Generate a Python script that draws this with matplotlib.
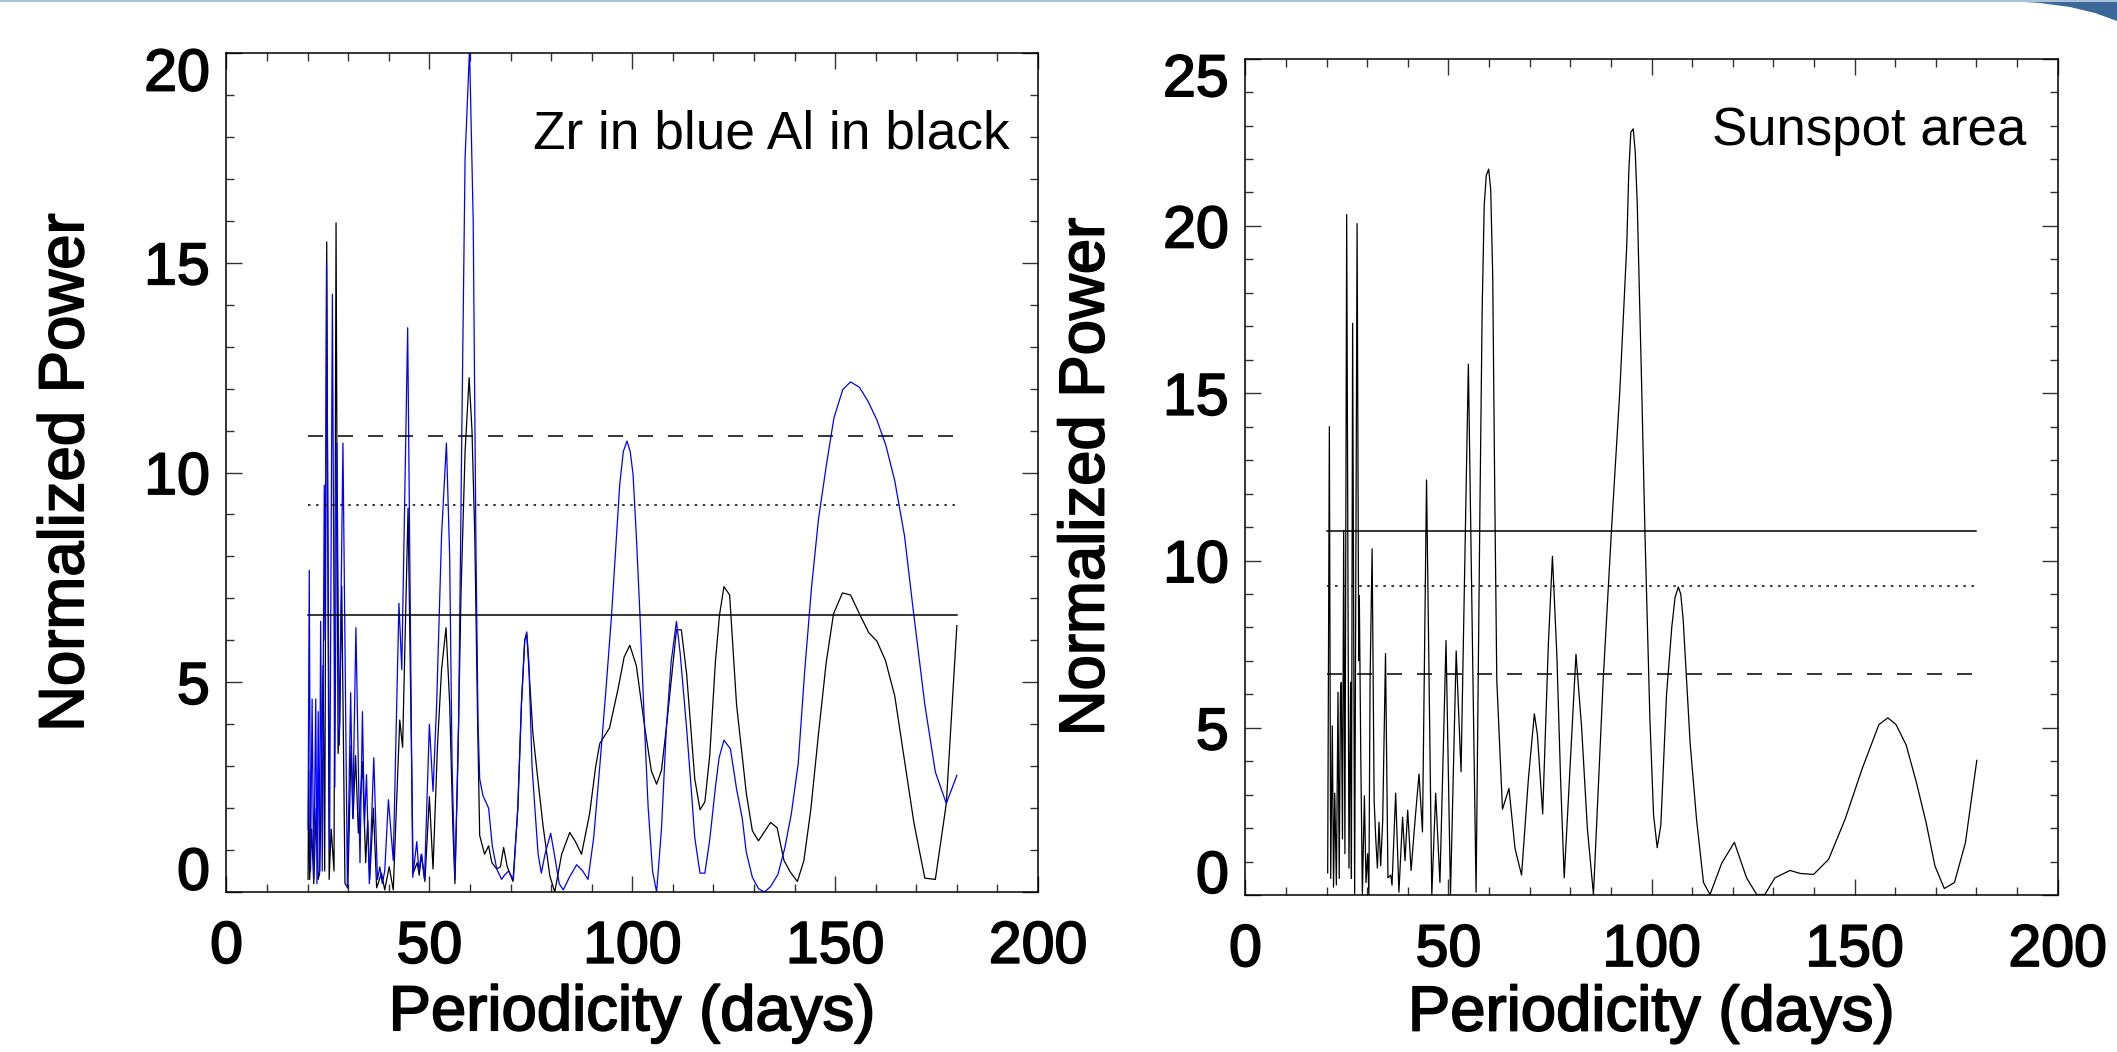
import numpy as np
import matplotlib
matplotlib.use("Agg")
import matplotlib.pyplot as plt
import matplotlib.patheffects as pe
from matplotlib.patches import Polygon
from matplotlib.transforms import ScaledTranslation, IdentityTransform
from matplotlib.ticker import MultipleLocator

plt.rcParams['font.family'] = ['Liberation Sans', 'DejaVu Sans']
plt.rcParams['lines.scale_dashes'] = False

# --- Zr (blue) periodogram, left panel ---
zr_period = [20.1, 20.4, 20.7, 21.1, 21.5, 22.0, 22.3, 22.6, 22.9, 23.2, 23.6, 24.1, 24.3, 24.65,
             25.4, 26.1, 26.7, 27.2, 27.8, 28.7, 29.8, 30.6, 31.1, 31.9, 32.9, 33.5, 34.0, 34.5,
             35.2, 36.3, 37.2, 37.8, 38.4, 39.0, 39.9, 41.1, 42.5, 43.2, 44.65, 45.9, 46.9, 47.4,
             48.0, 48.8, 50.0, 50.9, 51.8, 53.0, 54.2, 55.0, 55.6, 56.3, 57.2, 58.0, 58.8, 59.9,
             60.8, 61.5, 62.0, 62.4, 63.2, 63.9, 64.6, 65.5, 66.6, 67.8, 68.5, 69.5, 70.7, 71.8,
             72.7, 73.5, 74.0, 74.5, 75.3, 76.0, 76.8, 77.6, 78.5, 79.9, 80.8, 82.0, 83.0, 84.5,
             86.3, 87.8, 89.1, 90.5, 92.0, 93.5, 94.9, 96.0, 96.9, 97.8, 98.7, 99.5, 100.2, 101.0,
             101.9, 103.0, 103.9, 105.0, 106.0, 107.2, 108.4, 109.6, 110.9, 111.8, 113.4, 114.5,
             115.4, 116.7, 117.9, 119.1, 120.5, 121.4, 122.6, 124.2, 125.7, 127.1, 128.1, 129.6,
             131.1, 132.6, 134.1, 135.9, 137.6, 139.2, 140.9, 142.5, 144.2, 145.9, 147.8, 149.7,
             151.9, 153.8, 156.0, 158.1, 160.3, 162.5, 164.7, 167.1, 169.3, 172.1, 174.7, 177.4, 180.0]
zr_power = [1.5, 7.67, 0.5, 4.6, 0.3, 4.6, 0.2, 4.3, 0.4, 6.45, 0.5, 9.7, 6.0, 15.0,
            1.0, 14.25, 2.5, 10.7, 3.5, 10.7, 0.1, 4.75, 1.75, 6.3, 0.7, 4.3, 1.6, 2.8,
            0.2, 3.2, 0.3, 0.6, 0.2, 0.5, 2.2, 0.75, 6.88, 5.3, 13.45, 0.35, 1.2, 0.5,
            0.9, 0.3, 4.0, 2.4, 4.5, 8.5, 10.7, 8.0, 3.0, 0.3, 4.0, 11.0, 17.5, 20.1,
            16.0, 8.0, 4.0, 2.7, 2.3, 2.15, 2.0, 1.1, 0.55, 0.3, 0.4, 0.5, 0.3, 2.0,
            4.5, 6.0, 6.2, 5.5, 3.0, 2.0, 0.9, 0.45, 0.9, 1.4, 0.9, 0.2, 0.05, 0.35,
            0.65, 0.5, 0.3, 1.3, 3.0, 4.8, 6.6, 8.3, 9.7, 10.5, 10.75, 10.5, 9.95, 8.5,
            6.6, 4.0, 2.05, 0.5, 0.0, 1.5, 3.9, 5.5, 6.45, 5.7, 3.9, 2.5,
            1.3, 0.45, 0.45, 1.25, 2.5, 3.2, 3.62, 3.41, 2.46, 1.76, 0.95, 0.35,
            0.08, 0.0, 0.13, 0.42, 1.05, 1.86, 3.06, 5.27, 7.28, 8.89, 10.15, 11.3,
            11.98, 12.16, 12.03, 11.7, 11.25, 10.65, 9.8, 8.49, 6.68, 4.47, 2.86, 2.11, 2.78]

# --- Al (black) periodogram, left panel ---
al_period = [20.1, 20.25, 20.5, 21.0, 21.5, 22.1, 22.6, 23.0, 23.8, 24.2, 24.7, 25.3, 25.8, 26.5,
             27.0, 27.5, 27.9, 28.4, 29.2, 29.9, 30.7, 31.2, 31.8, 32.5, 33.5, 34.3, 34.8, 35.3,
             36.2, 37.0, 38.2, 39.0, 40.1, 41.1, 42.7, 43.4, 44.75, 46.0, 47.0, 47.5, 48.1, 48.9,
             50.0, 50.9, 52.0, 53.0, 54.1, 55.0, 55.8, 56.3, 57.0, 57.8, 58.8, 59.8, 60.5, 61.2,
             61.9, 62.4, 63.6, 64.6, 65.4, 66.6, 67.5, 68.3, 69.2, 70.6, 71.8, 72.7, 73.5, 74.0,
             74.6, 75.5, 76.4, 78.0, 79.7, 80.9, 82.6, 84.6, 86.0, 87.5, 89.5, 91.0, 92.0, 94.4,
             96.5, 98.0, 99.4, 101.0, 103.1, 104.7, 106.0, 107.2, 108.4, 110.9, 112.1, 113.4,
             115.4, 116.7, 117.9, 119.1, 120.5, 121.5, 122.6, 124.0, 125.7, 128.1, 129.6, 131.1,
             134.1, 135.7, 137.4, 139.0, 140.7, 142.3, 144.0, 145.9, 147.8, 149.6, 151.8, 153.8,
             156.0, 158.3, 160.3, 162.4, 164.7, 166.9, 169.4, 172.1, 174.7, 177.4, 180.0]
al_power = [0.3, 2.9, 0.3, 1.5, 0.2, 2.0, 0.3, 0.5, 5.4, 0.5, 15.5, 0.3, 1.5, 0.5,
            15.95, 3.3, 4.0, 7.3, 0.2, 0.1, 3.5, 1.75, 3.25, 1.4, 3.1, 0.7, 1.7, 0.3,
            2.0, 0.1, 0.45, 0.05, 0.6, 0.05, 4.1, 3.45, 9.15, 0.45, 0.7, 0.4, 0.9, 0.25,
            2.27, 0.55, 3.5, 5.3, 6.3, 4.5, 1.5, 0.2, 3.0, 7.15, 10.5, 12.26, 11.0, 8.47,
            4.0, 1.35, 0.9, 1.1, 0.7, 0.55, 0.6, 1.06, 0.6, 0.25, 2.0, 4.5, 6.0, 6.15,
            5.2, 3.8, 2.98, 1.59, 0.38, 0.0, 0.9, 1.42, 1.2, 0.9, 1.87, 3.0, 3.54, 3.91,
            4.84, 5.6, 5.88, 5.4, 3.91, 2.89, 2.57, 2.9, 3.91, 6.25, 6.25, 5.2,
            2.7, 1.96, 2.15, 3.26, 5.5, 6.6, 7.28, 7.08, 4.47, 2.36, 1.46, 1.22,
            1.66, 1.53, 0.75, 0.47, 0.25, 0.75, 1.96, 3.77, 5.47, 6.63, 7.13, 7.08,
            6.63, 6.18, 5.98, 5.52, 4.67, 3.26, 1.66, 0.33, 0.3, 2.11, 6.35]

# --- Sunspot area periodogram, right panel ---
ss_period = [20.26, 20.67, 21.0, 21.4, 21.7, 22.0, 22.4, 22.8, 23.1, 23.4, 23.6, 23.9, 24.2, 24.5,
             24.94, 25.5, 25.9, 26.1, 26.4, 26.9, 27.5, 27.9, 28.05, 28.4, 28.8, 29.3, 29.7, 30.1,
             30.4, 30.7, 31.2, 31.7, 32.1, 32.5, 32.9, 33.3, 33.8, 34.5, 35.1, 35.8, 36.1, 37.0,
             37.8, 38.7, 39.3, 39.96, 40.8, 41.8, 42.75, 43.6, 44.6, 45.9, 46.85, 47.9, 49.4, 50.5,
             51.9, 53.1, 54.9, 56.8, 57.7, 58.3, 58.8, 59.3, 59.9, 60.4, 60.9, 61.4, 61.9, 63.3,
             64.9, 66.4, 68.0, 69.7, 71.15, 71.9, 73.2, 74.6, 75.6, 76.7, 77.6, 78.5, 79.5, 81.4,
             82.8, 84.2, 85.7, 88.1, 90.2, 92.2, 93.9, 94.4, 94.9, 95.5, 96.0, 96.5, 97.6, 98.4,
             99.6, 100.5, 101.4, 102.3, 103.7, 105.0, 105.8, 106.6, 107.2, 107.8, 109.5, 111.1,
             112.8, 114.4, 117.3, 120.4, 123.4, 125.9, 127.9, 130.4, 134.1, 136.6, 139.9, 143.6,
             147.7, 151.9, 156.0, 158.2, 160.2, 162.7, 165.2, 167.6, 169.8, 172.1, 174.6, 177.3, 180.1]
ss_power = [0.67, 14.0, 0.5, 5.06, 0.24, 3.05, 0.31, 6.07, 0.5, 6.0, 6.36, 1.68, 10.9, 1.24,
            20.34, 0.81, 6.36, 0.5, 17.09, 0.02, 20.07, 7.01, 8.95, 4.27, 0.02, 2.97, 0.38, 1.24,
            0.02, 6.43, 10.35, 2.83, 1.68, 0.81, 2.18, 0.88, 2.2, 7.22, 0.52, 0.6, 0.3, 3.05,
            0.09, 2.33, 1.03, 2.54, 0.74, 2.28, 3.62, 1.89, 12.41, 0.02, 3.05, 0.38, 7.61, 0.02,
            7.3, 3.69, 15.87, 0.09, 11.0, 17.5, 20.6, 21.5, 21.7, 21.1, 18.5, 12.0, 6.43, 2.57,
            3.19, 1.39, 0.6, 3.5, 5.42, 4.8, 2.43, 7.5, 10.13, 7.15, 3.5, 0.52, 2.8, 7.2,
            4.99, 2.0, 0.02, 6.43, 11.04, 15.08, 19.4, 21.6, 22.8, 22.9, 22.2, 20.6, 15.08, 10.75,
            5.28, 2.4, 1.42, 2.1, 6.0, 8.02, 8.9, 9.21, 9.0, 8.23, 4.56, 2.25,
            0.38, 0.02, 0.96, 1.58, 0.52, 0.02, 0.02, 0.52, 0.74, 0.65, 0.62, 1.07,
            2.28, 3.79, 5.1, 5.3, 5.1, 4.49, 3.38, 2.18, 0.87, 0.2, 0.38, 1.57, 4.03]

# significance levels (same values in both panels)
levels = [10.87, 9.23, 6.61]
level_range = [20, 180]

xticks = [0, 50, 100, 150, 200]

DASHED = (0, (10.8, 10.8))
DOTTED = (0, (1.8, 4.0))

fig = plt.figure(figsize=(21.17, 10.52), dpi=100)
ax1 = fig.add_axes([0.10699, 0.15209, 0.38333, 0.79753])
ax2 = fig.add_axes([0.58829, 0.14905, 0.38366, 0.79525])

thick = [pe.withStroke(linewidth=1.3, foreground='black')]


def style_axes(ax, ymax):
    ax.set_xlim(0, 200)
    ax.set_ylim(0, ymax)
    ax.set_xticks(xticks)
    ax.set_yticks(np.arange(0, ymax + 1, 5))
    ax.xaxis.set_minor_locator(MultipleLocator(10))
    ax.yaxis.set_minor_locator(MultipleLocator(1))
    ax.tick_params(which='both', direction='in', top=True, right=True, color='#333333', width=1.0)
    ax.tick_params(which='major', length=11.5)
    ax.tick_params(which='minor', length=5.8)
    ax.tick_params(axis='x', labelsize=42.5, pad=20)
    ax.tick_params(axis='y', labelsize=42.5, pad=12)
    for s in ax.spines.values():
        s.set_linewidth(1.1)
    for lab in ax.get_xticklabels() + ax.get_yticklabels():
        lab.set_path_effects(thick)
    # the bottom and top y labels sit a little inside the frame, as in the original
    yt = ax.yaxis.get_major_ticks()
    yt[0].label1.set_transform(yt[0].label1.get_transform() + ScaledTranslation(0, 0.24, fig.dpi_scale_trans))
    yt[-1].label1.set_transform(yt[-1].label1.get_transform() + ScaledTranslation(0, -0.16, fig.dpi_scale_trans))
    ax.set_xlabel('Periodicity (days)', fontsize=45.7, va='center', path_effects=thick)
    ax.set_ylabel('Normalized Power', fontsize=45.7, va='center', path_effects=thick)


# left panel: Zr in blue, Al in black
ax1.plot(al_period, al_power, color='black', lw=0.9)
ax1.plot(zr_period, zr_power, color='#0000ff', lw=0.9)
ax1.plot(level_range, [levels[0]] * 2, color='black', lw=1.1, linestyle=DASHED)
ax1.plot(level_range, [levels[1]] * 2, color='black', lw=1.1, linestyle=DOTTED)
ax1.plot(level_range, [levels[2]] * 2, color='black', lw=1.1, linestyle='-')
style_axes(ax1, 20)
ax1.xaxis.set_label_coords(0.5, -0.145)
ax1.yaxis.set_label_coords(-0.197, 0.5)
ax1.text(0.9655, 0.903, 'Zr in blue Al in black', transform=ax1.transAxes,
         ha='right', va='center', fontsize=38.3)

# right panel: sunspot area
ax2.plot(ss_period, ss_power, color='black', lw=0.9)
ax2.plot(level_range, [levels[0]] * 2, color='black', lw=1.1, linestyle='-')
ax2.plot(level_range, [levels[1]] * 2, color='black', lw=1.1, linestyle=DOTTED)
ax2.plot(level_range, [levels[2]] * 2, color='black', lw=1.1, linestyle=DASHED)
style_axes(ax2, 25)
ax2.xaxis.set_label_coords(0.5, -0.142)
ax2.yaxis.set_label_coords(-0.195, 0.5)
ax2.text(0.961, 0.913, 'Sunspot area', transform=ax2.transAxes,
         ha='right', va='center', fontsize=38.1)

# slide template decoration: thin line along the top and a swoosh in the corner
H = 1052
fig.add_artist(plt.Line2D([0, 2117], [H - 0.5, H - 0.5], transform=IdentityTransform(),
                          color='#a9c1d9', lw=1.5))
swoosh = [(1985, H), (2117, H), (2117, H - 21), (2095, H - 13), (2070, H - 7), (2040, H - 3), (2010, H - 1)]
fig.add_artist(Polygon(swoosh, closed=True, transform=IdentityTransform(),
                       facecolor='#3b6898', edgecolor='none'))

fig.savefig('out.png', dpi=100)
